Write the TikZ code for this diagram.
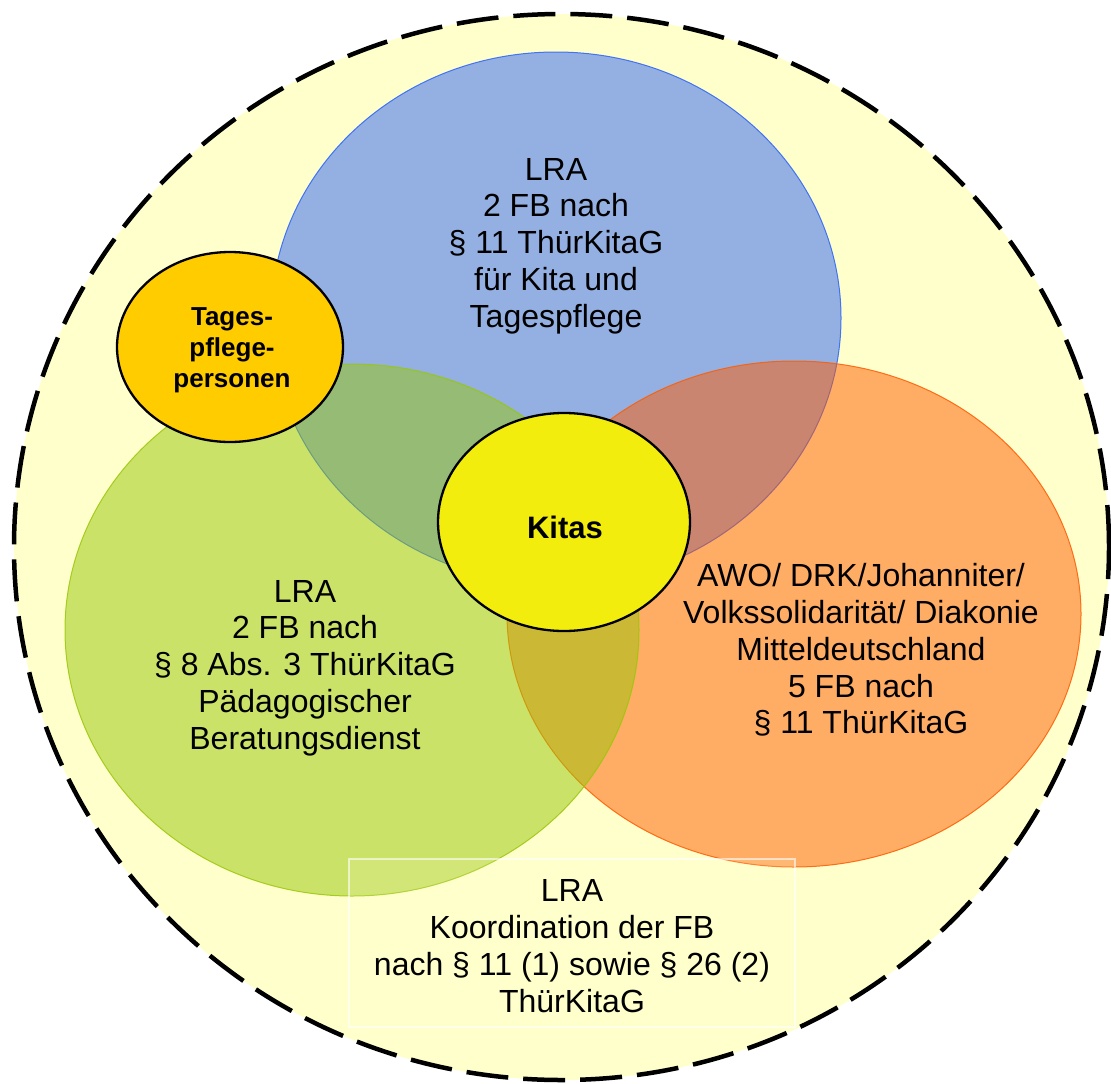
\documentclass[tikz,border=0pt]{standalone}
\usepackage{fontspec}
\setmainfont{Liberation Sans}
\usetikzlibrary{shapes.geometric}
\definecolor{bgyellow}{RGB}{255,255,204}
\definecolor{vblue}{RGB}{43,99,248}
\definecolor{vorange}{RGB}{255,91,0}
\definecolor{vgreen}{RGB}{153,199,8}
\definecolor{kitasyellow}{RGB}{242,237,12}
\definecolor{tpgold}{RGB}{255,204,0}
\begin{document}
\begin{tikzpicture}[x=1pt,y=-1pt,
  venn/.style={ellipse, inner sep=0pt, outer sep=0pt, fill opacity=0.5, draw opacity=0.85, line width=1pt},
  core/.style={ellipse, inner sep=0pt, draw=black, line width=2.3pt},
  lbl/.style={align=center, font=\fontsize{32}{36.8}\selectfont, text=black, inner sep=0pt},
  blbl/.style={align=center, text=black, inner sep=0pt}
]
\useasboundingbox (0,0) rectangle (1111,1084);
% outer dashed ellipse
\node[ellipse, draw=black, fill=bgyellow, dash pattern=on 42pt off 15pt, line width=4.5pt,
      minimum width=1095pt, minimum height=1066pt, inner sep=0pt] (outer) at (561.5,547) {};
% Venn ellipses
\node[venn, draw=vblue, fill=vblue, minimum width=570pt, minimum height=532pt] (blue) at (556,318) {};
\node[venn, draw=vorange, fill=vorange, minimum width=574pt, minimum height=506pt] (orange) at (794,614) {};
\node[venn, draw=vgreen, fill=vgreen, minimum width=574pt, minimum height=532pt] (green) at (352,630) {};
% coordination box
\node[draw=white, draw opacity=0.6, fill=bgyellow, fill opacity=0.15, line width=1.5pt,
      minimum width=446pt, minimum height=168pt, inner sep=0pt] (koord) at (572,943) {};
% core ellipses
\node[core, fill=kitasyellow, minimum width=252pt, minimum height=218pt] (kitas) at (564,522) {};
\node[core, fill=tpgold, minimum width=226pt, minimum height=190pt] (tp) at (230,347) {};
% texts
\node[lbl] (bluetext) at (556,246) {LRA\\2 FB nach\\§ 11 ThürKitaG\\für Kita und\\Tagespflege};
\node[lbl] (greentext) at (305,668) {LRA\\2 FB nach\\§ 8 Abs. 3 ThürKitaG\\Pädagogischer\\Beratungsdienst};
\node[lbl] (orangetext) at (861,650) {AWO/ DRK/Johanniter/\\Volkssolidarität/ Diakonie\\Mitteldeutschland\\5 FB nach\\§ 11 ThürKitaG};
\node[lbl] (koordtext) at (572,946) {LRA\\Koordination der FB\\nach § 11 (1) sowie § 26 (2)\\ThürKitaG};
\node[blbl, font=\fontsize{31}{36}\selectfont\bfseries] (kitastext) at (565,527) {Kitas};
\node[blbl, font=\fontsize{26}{31}\selectfont\bfseries] (tptext) at (232,350) {Tages-\\pflege-\\personen};
\end{tikzpicture}
\end{document}
